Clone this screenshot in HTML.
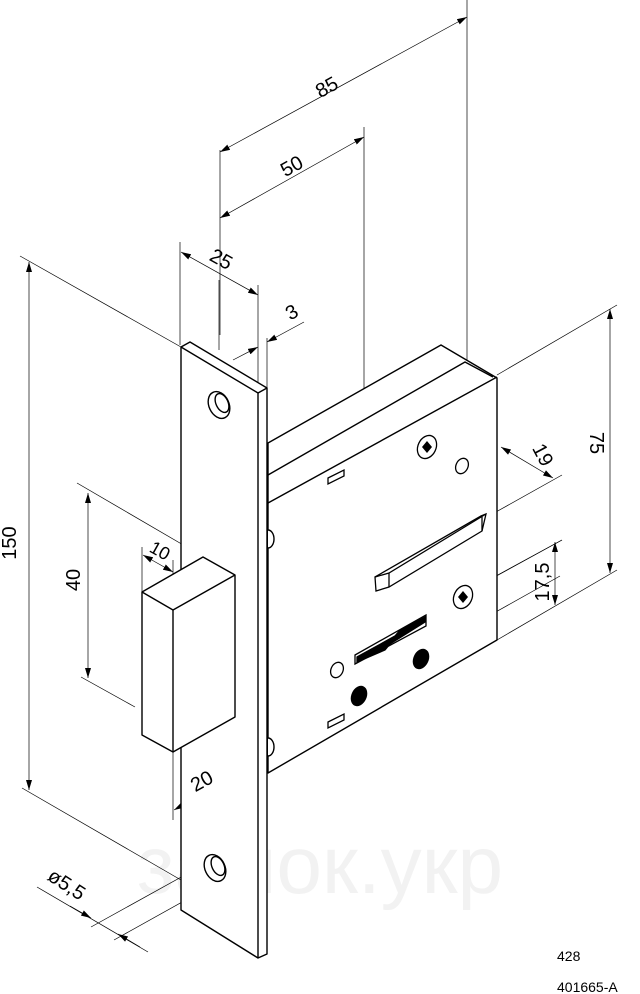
<!DOCTYPE html>
<html><head><meta charset="utf-8"><style>
html,body{margin:0;padding:0;background:#fff;}
svg{display:block;}
text{font-family:"Liberation Sans","DejaVu Sans",sans-serif;fill:#000;}
</style></head><body>
<svg width="640" height="994" viewBox="0 0 640 994" xmlns="http://www.w3.org/2000/svg">
<defs>
<marker id="a" viewBox="0 0 10 6" refX="10" refY="3" markerWidth="10" markerHeight="6" orient="auto-start-reverse" markerUnits="userSpaceOnUse"><path d="M0,0 L10,3 L0,6 Z" fill="#000"/></marker>
</defs>
<text x="320" y="893" font-size="82" text-anchor="middle" style="fill:#f2f2f2">замок.укр</text>

<g stroke="#000" stroke-width="0.7" fill="none">
<line x1="467" y1="0" x2="467" y2="360"/>
<line x1="220" y1="150" x2="220" y2="335"/>
<line x1="220" y1="152" x2="467" y2="17" marker-start="url(#a)" marker-end="url(#a)"/>
<line x1="364" y1="127" x2="364" y2="420"/>
<line x1="220" y1="218" x2="364" y2="137" marker-start="url(#a)" marker-end="url(#a)"/>
<line x1="180" y1="242" x2="180" y2="345"/>
<line x1="258" y1="285" x2="258" y2="392"/>
<line x1="219" y1="280" x2="219" y2="350"/>
<line x1="181" y1="252" x2="258" y2="295" marker-start="url(#a)" marker-end="url(#a)"/>
<line x1="267" y1="338" x2="267" y2="388"/>
<line x1="233" y1="360" x2="258" y2="347" marker-end="url(#a)"/>
<line x1="304" y1="322" x2="267" y2="342" marker-end="url(#a)"/>
<line x1="20" y1="256" x2="181" y2="347"/>
<line x1="22" y1="788" x2="181" y2="880"/>
<line x1="29" y1="262" x2="29" y2="790" marker-start="url(#a)" marker-end="url(#a)"/>
<line x1="77" y1="483" x2="197" y2="553"/>
<line x1="81" y1="677" x2="135" y2="707"/>
<line x1="88" y1="493" x2="88" y2="678" marker-start="url(#a)" marker-end="url(#a)"/>
<line x1="142" y1="547" x2="142" y2="600"/>
<line x1="173" y1="560" x2="173" y2="610"/>
<line x1="143" y1="555" x2="173" y2="572" marker-start="url(#a)" marker-end="url(#a)"/>
<line x1="235" y1="730" x2="235" y2="787"/>
<line x1="173" y1="752" x2="173" y2="820"/>
<line x1="174" y1="810" x2="235" y2="776" marker-start="url(#a)" marker-end="url(#a)"/>
<line x1="91" y1="927" x2="212" y2="860"/>
<line x1="114" y1="940" x2="227" y2="877"/>
<line x1="37" y1="887" x2="148" y2="952"/>
<line x1="70" y1="906" x2="91" y2="918" marker-end="url(#a)"/>
<line x1="140" y1="947" x2="118" y2="934" marker-end="url(#a)"/>
<line x1="497" y1="375" x2="617" y2="305"/>
<line x1="497" y1="640" x2="617" y2="570"/>
<line x1="610" y1="309" x2="610" y2="573" marker-start="url(#a)" marker-end="url(#a)"/>
<line x1="487" y1="517" x2="562" y2="475"/>
<line x1="501" y1="447" x2="553" y2="478" marker-start="url(#a)" marker-end="url(#a)"/>
<line x1="430" y1="612" x2="562" y2="540"/>
<line x1="480" y1="585" x2="562" y2="540"/>
<line x1="462" y1="597" x2="480" y2="587"/>
<line x1="555" y1="542" x2="555" y2="605" marker-start="url(#a)" marker-end="url(#a)"/>
<line x1="485" y1="618" x2="560" y2="576"/>
<line x1="371" y1="420" x2="371" y2="660" stroke-dasharray="14,2,2,2"/>
<line x1="364" y1="420" x2="391" y2="435"/>
</g>

<g stroke="#000" stroke-width="1.4" fill="#fff" stroke-linejoin="round">
<polygon points="268,443 441,345 497,378 497,640 268,773"/>
<polyline points="268,475 465,362 493,377" fill="none"/>
<line x1="268" y1="503" x2="497" y2="377"/>
<path d="M268,530 a6,9 0 0 1 0,18" />
<path d="M268,738 a6,9 0 0 1 0,18" />
<polygon points="181,347 190,342 267,388 267,954 258,958 181,910"/>
<polyline points="181,347 258,393 258,958" fill="none"/>
<line x1="258" y1="393" x2="267" y2="388"/>
<ellipse cx="219" cy="405" rx="10" ry="14" transform="rotate(-25 219 405)"/>
<ellipse cx="222" cy="403" rx="6" ry="10" transform="rotate(-25 222 403)"/>
<ellipse cx="215" cy="868" rx="10" ry="14" transform="rotate(-25 215 868)"/>
<ellipse cx="218" cy="866" rx="6" ry="10" transform="rotate(-25 218 866)"/>
<polygon points="142,592 203,557 235,575 235,717 173,752 142,735"/>
<polyline points="142,592 173,610 235,575" fill="none"/>
<line x1="173" y1="610" x2="173" y2="752"/>
</g>

<g stroke="#000" stroke-width="1.3" fill="#fff">
<ellipse cx="427" cy="447" rx="9" ry="12" transform="rotate(25 427 447)"/>
<path d="M422,447 L427,441 L432,447 L427,453 Z" fill="#000" stroke="none"/>
<ellipse cx="462" cy="466" rx="6" ry="8" transform="rotate(25 462 466)"/>
<ellipse cx="463" cy="597" rx="9" ry="12" transform="rotate(25 463 597)"/>
<path d="M458,597 L463,591 L468,597 L463,603 Z" fill="#000" stroke="none"/>
<polygon points="328,478 344,470 344,476 328,484"/>
<polygon points="328,722 344,714 344,720 328,728"/>
<polygon points="375,577 481,516 486,514 482,531 389,587 376,591"/>
<polyline points="375,577 389,573 486,514" fill="none"/>
<line x1="389" y1="573" x2="389" y2="587"/>
<line x1="482" y1="517" x2="482" y2="531"/>
<polygon points="355,655 426,615 426,626 355,664"/>
<path d="M357,657 L395,636 L400,630 L405,628 L412,624 L425,617 L425,622 L390,644 L385,650 L357,662 Z" fill="#000"/>
<ellipse cx="337" cy="670" rx="6" ry="8" transform="rotate(25 337 670)"/>
<ellipse cx="421" cy="659" rx="7" ry="10" transform="rotate(25 421 659)" fill="#000"/>
<ellipse cx="359" cy="696" rx="7" ry="10" transform="rotate(25 359 696)" fill="#000"/>
</g>

<g font-size="20">
<text transform="translate(330,93) rotate(-29)" text-anchor="middle">85</text>
<text transform="translate(295,172) rotate(-29)" text-anchor="middle">50</text>
<text transform="translate(218,265) rotate(29)" text-anchor="middle">25</text>
<text transform="translate(295,318) rotate(-29)" text-anchor="middle">3</text>
<text transform="translate(16,543) rotate(-90)" text-anchor="middle">150</text>
<text transform="translate(80,580) rotate(-90)" text-anchor="middle">40</text>
<text transform="translate(157,556) rotate(29)" text-anchor="middle" font-size="18">10</text>
<text transform="translate(205,787) rotate(-29)" text-anchor="middle">20</text>
<text transform="translate(63,890) rotate(33)" text-anchor="middle">ø5,5</text>
<text transform="translate(590,443) rotate(90)" text-anchor="middle">75</text>
<text transform="translate(537,458) rotate(62)" text-anchor="middle">19</text>
<text transform="translate(549,582) rotate(-90)" text-anchor="middle">17,5</text>
</g>
<text x="557" y="961" font-size="14">428</text>
<text x="557" y="992" font-size="14">401665-A</text>
</svg>
</body></html>
